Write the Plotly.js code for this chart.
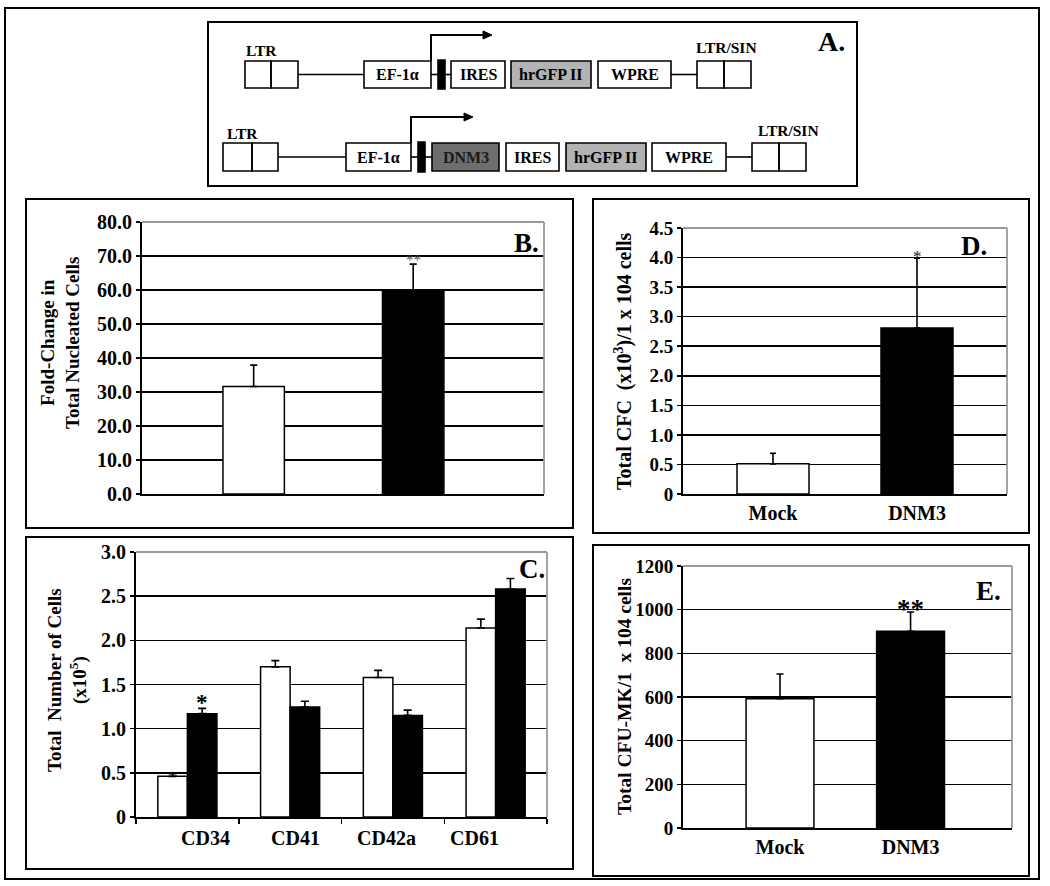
<!DOCTYPE html>
<html>
<head>
<meta charset="utf-8">
<script src="https://cdn.plot.ly/plotly-3.0.1.min.js"></script>
<style>html,body{margin:0;padding:0;background:#fff;}#chart{width:1050px;height:886px;}</style>
</head>
<body>
<div id="chart"></div>
<script>
// ---------- data ----------
const groups = ['Mock', 'DNM3'];
const foldChange = [31.6, 59.8];
const foldChangeErr = [6.3, 7.8];

const markers = ['CD34', 'CD41', 'CD42a', 'CD61'];
const cellsMock = [0.46, 1.70, 1.58, 2.14];
const cellsMockErr = [0.03, 0.07, 0.08, 0.10];
const cellsDNM3 = [1.17, 1.245, 1.15, 2.58];
const cellsDNM3Err = [0.06, 0.065, 0.06, 0.12];

const cfc = [0.51, 2.81];
const cfcErr = [0.18, 1.18];

const cfuMk = [592, 901];
const cfuMkErr = [113, 88];

const bTicks = [0, 10, 20, 30, 40, 50, 60, 70, 80];
const bTickText = ['0.0', '10.0', '20.0', '30.0', '40.0', '50.0', '60.0', '70.0', '80.0'];
const cTicks = [0, 0.5, 1.0, 1.5, 2.0, 2.5, 3.0];
const cTickText = ['0', '0.5', '1.0', '1.5', '2.0', '2.5', '3.0'];
const dTicks = [0, 0.5, 1.0, 1.5, 2.0, 2.5, 3.0, 3.5, 4.0, 4.5];
const dTickText = ['0', '0.5', '1.0', '1.5', '2.0', '2.5', '3.0', '3.5', '4.0', '4.5'];
const eTicks = [0, 200, 400, 600, 800, 1000, 1200];
const eTickText = ['0', '200', '400', '600', '800', '1000', '1200'];

// ---------- helpers ----------
const W = 1050, H = 886;
const X = p => p / W;
const Y = p => 1 - p / H;
const SERIF = 'Liberation Serif, Times New Roman, serif';
const bold = (size, color) => ({family: SERIF, size: size, color: color || '#000', weight: 700});

const shapes = [];
const annotations = [];
function rect(x0, y0, x1, y1, fill, lw) {
  shapes.push({type: 'rect', xref: 'paper', yref: 'paper', x0: X(x0), x1: X(x1), y0: Y(y1), y1: Y(y0),
    line: {color: '#000', width: lw || 1.6}, fillcolor: fill || 'rgba(0,0,0,0)', layer: 'above'});
}
function line(x0, y0, x1, y1, lw, color) {
  shapes.push({type: 'line', xref: 'paper', yref: 'paper', x0: X(x0), x1: X(x1), y0: Y(y0), y1: Y(y1),
    line: {color: color || '#000', width: lw || 1.6}, layer: 'above'});
}
function text(t, x, y, size, color, extra) {
  annotations.push(Object.assign({text: t, xref: 'paper', yref: 'paper', x: X(x), y: Y(y),
    xanchor: 'center', yanchor: 'middle', showarrow: false, font: bold(size, color)}, extra || {}));
}
// elbow promoter arrow: vertical from (x, yBottom) up to yTop, then right to xTip with a solid head
function promoterArrow(x, yBottom, yTop, xTip) {
  line(x, yBottom, x, yTop, 2);
  line(x - 1, yTop, xTip - 7, yTop, 2);
  shapes.push({type: 'path', xref: 'paper', yref: 'paper',
    path: 'M ' + X(xTip) + ' ' + Y(yTop) + ' L ' + X(xTip - 9) + ' ' + Y(yTop - 4) +
          ' L ' + X(xTip - 9) + ' ' + Y(yTop + 4) + ' Z',
    fillcolor: '#000', line: {color: '#000', width: 1}, layer: 'above'});
}

// ---------- frames ----------
rect(5, 8, 1039, 879, null, 2);
rect(208, 22, 857, 186, null, 2);
rect(26, 199, 573, 528, null, 2);
rect(26, 537, 573, 869, null, 2);
rect(593, 199, 1029, 533, null, 2);
rect(593, 545, 1029, 876, null, 2);

// ---------- panel A diagram ----------
const GFP = '#b3b3b3', DNM = '#6e6e6e';
const FS = 16;
// row 1
let t = 61, b = 88, m = 74.5;
rect(245, t, 271, b); rect(271, t, 298, b);
line(298, m, 364, m);
rect(364, t, 431, b); text('EF-1α', 397.5, m, FS);
line(431, m, 451, m);
rect(438, t - 1, 445, b + 1, '#000');
rect(451, t, 505, b); text('IRES', 478, m, FS);
rect(511, t, 591, b, GFP); text('hrGFP II', 551, m, FS);
rect(598, t, 671, b); text('WPRE', 634.5, m, FS);
line(671, m, 697, m);
rect(697, t, 724, b); rect(724, t, 751, b);
text('LTR', 261, 50, 15.5);
text('LTR/SIN', 726, 48, 15.5);
promoterArrow(431, t, 35, 492);
// row 2
t = 143; b = 171; m = 157;
rect(223, t, 252, b); rect(252, t, 278, b);
line(278, m, 346, m);
rect(346, t, 411, b); text('EF-1α', 378.5, m, FS);
line(411, m, 432, m);
rect(418, t - 1, 425, b + 1, '#000');
rect(432, t, 499, b, DNM); text('DNM3', 465.5, m, FS, '#1a1a1a');
rect(506, t, 559, b); text('IRES', 532.5, m, FS);
rect(566, t, 646, b, GFP); text('hrGFP II', 606, m, FS);
rect(652, t, 726, b); text('WPRE', 689, m, FS);
line(726, m, 752, m);
rect(752, t, 779, b); rect(779, t, 806, b);
text('LTR', 242, 134, 15.5);
text('LTR/SIN', 788, 130, 15.5);
promoterArrow(411, t, 117, 473);

// panel labels
text('A.', 831, 42, 28);
text('B.', 526, 243, 27);
text('C.', 532, 569, 27);
text('D.', 974, 246, 27);
text('E.', 988, 591, 27);

// y-axis titles
text('Fold-Change in<br>Total Nucleated Cells', 60, 343, 19, null, {textangle: -90});
text('Total  Number of Cells<br>(x10<sup>5</sup>)', 67, 680, 19, null, {textangle: -90});
text('Total CFC  (x10<sup>3</sup>)/1 x 104 cells', 623, 361, 20, null, {textangle: -90});
text('Total CFU-MK/1  x 104 cells', 624, 697, 19.5, null, {textangle: -90});

// panel C category labels (in the original they sit slightly off the category centres)
const cLabelShift = [18, 5, -6, -21];
markers.forEach((name, i) => {
  annotations.push({text: name, xref: 'x2', yref: 'paper', x: name, y: Y(838), xshift: cLabelShift[i],
    xanchor: 'center', yanchor: 'middle', showarrow: false, font: bold(20)});
});

// significance marks
annotations.push({text: '**', xref: 'x', yref: 'y', x: 'DNM3', y: foldChange[1] + foldChangeErr[1],
  yanchor: 'middle', yshift: 4, showarrow: false, font: {family: SERIF, size: 15, color: '#555'}});
annotations.push({text: '*', xref: 'x2', yref: 'y2', x: 'CD34', y: cellsDNM3[0] + cellsDNM3Err[0],
  xshift: 15, yanchor: 'middle', yshift: 6, showarrow: false, font: bold(23)});
annotations.push({text: '*', xref: 'x3', yref: 'y3', x: 'DNM3', y: cfc[1] + cfcErr[1],
  yanchor: 'middle', yshift: 2, showarrow: false, font: {family: SERIF, size: 17, color: '#222'}});
annotations.push({text: '**', xref: 'x4', yref: 'y4', x: 'DNM3', y: cfuMk[1] + cfuMkErr[1],
  yanchor: 'middle', yshift: 3, showarrow: false, font: bold(27)});

// gray top/right plot frames
function frame(xr, yr) {
  shapes.push({type: 'line', xref: xr + ' domain', yref: yr + ' domain', x0: 0, x1: 1, y0: 1, y1: 1,
    line: {color: '#999', width: 1.8}, layer: 'above'});
  shapes.push({type: 'line', xref: xr + ' domain', yref: yr + ' domain', x0: 1, x1: 1, y0: 0, y1: 1,
    line: {color: '#999', width: 1.8}, layer: 'above'});
}
frame('x', 'y'); frame('x2', 'y2'); frame('x3', 'y3'); frame('x4', 'y4');

// ---------- traces ----------
const barLine = {color: '#000', width: 1.5};
const errStyle = (arr, w) => ({type: 'data', symmetric: false, array: arr, arrayminus: arr.map(() => 0),
  color: '#000', thickness: 1.6, width: w});

const traces = [
  {type: 'bar', x: groups, y: foldChange, xaxis: 'x', yaxis: 'y', width: 0.385,
   marker: {color: ['#ffffff', '#000000'], line: barLine}, error_y: errStyle(foldChangeErr, 3.5),
   hoverinfo: 'skip', showlegend: false},
  {type: 'bar', x: markers, y: cellsMock, xaxis: 'x2', yaxis: 'y2', name: 'Mock',
   marker: {color: '#ffffff', line: barLine}, error_y: errStyle(cellsMockErr, 4),
   hoverinfo: 'skip', showlegend: false},
  {type: 'bar', x: markers, y: cellsDNM3, xaxis: 'x2', yaxis: 'y2', name: 'DNM3',
   marker: {color: '#000000', line: barLine}, error_y: errStyle(cellsDNM3Err, 4),
   hoverinfo: 'skip', showlegend: false},
  {type: 'bar', x: groups, y: cfc, xaxis: 'x3', yaxis: 'y3', width: 0.5,
   marker: {color: ['#ffffff', '#000000'], line: barLine}, error_y: errStyle(cfcErr, 3),
   hoverinfo: 'skip', showlegend: false},
  {type: 'bar', x: groups, y: cfuMk, xaxis: 'x4', yaxis: 'y4', width: 0.52,
   marker: {color: ['#ffffff', '#000000'], line: barLine}, error_y: errStyle(cfuMkErr, 3.5),
   hoverinfo: 'skip', showlegend: false}
];

const yBase = (ticks, texts, size) => ({
  range: [ticks[0], ticks[ticks.length - 1]], tickvals: ticks, ticktext: texts,
  showgrid: true, gridcolor: '#000', gridwidth: 1.5, zeroline: false,
  showline: true, linecolor: '#000', linewidth: 2, ticks: 'outside', ticklen: 4,
  tickcolor: '#000', tickwidth: 1.5, tickfont: bold(size), fixedrange: true
});
const xBase = (range, size) => ({
  type: 'category', range: range, showgrid: false, zeroline: false,
  showline: true, linecolor: '#000', linewidth: 2, tickfont: bold(size), fixedrange: true
});

const layout = {
  width: W, height: H, margin: {l: 0, r: 0, t: 0, b: 0},
  paper_bgcolor: '#fff', plot_bgcolor: '#fff',
  showlegend: false, barmode: 'group', bargap: 0.425, bargroupgap: 0,
  font: {family: SERIF, color: '#000'},
  xaxis: Object.assign(xBase([-0.7, 1.82], 20), {domain: [X(142), X(544)], anchor: 'y', showticklabels: false, ticks: ''}),
  yaxis: Object.assign(yBase(bTicks, bTickText, 20), {domain: [Y(494), Y(222)], anchor: 'x'}),
  xaxis2: Object.assign(xBase([-0.5, 3.5], 20), {domain: [X(136), X(547)], anchor: 'y2',
    ticks: 'outside', tickson: 'boundaries', ticklen: 5, tickcolor: '#000', tickwidth: 1.5,
    showticklabels: false}),
  yaxis2: Object.assign(yBase(cTicks, cTickText, 20), {domain: [Y(817), Y(552)], anchor: 'x2'}),
  xaxis3: Object.assign(xBase([-0.625, 1.625], 20), {domain: [X(683), X(1007)], anchor: 'y3', ticks: ''}),
  yaxis3: Object.assign(yBase(dTicks, dTickText, 19), {domain: [Y(494), Y(228)], anchor: 'x3'}),
  xaxis4: Object.assign(xBase([-0.743, 1.777], 20), {domain: [X(683), X(1012)], anchor: 'y4', ticks: ''}),
  yaxis4: Object.assign(yBase(eTicks, eTickText, 19), {domain: [Y(828), Y(566)], anchor: 'x4'}),
  shapes: shapes,
  annotations: annotations
};

Plotly.newPlot('chart', traces, layout, {displayModeBar: false, staticPlot: true});
</script>
</body>
</html>
